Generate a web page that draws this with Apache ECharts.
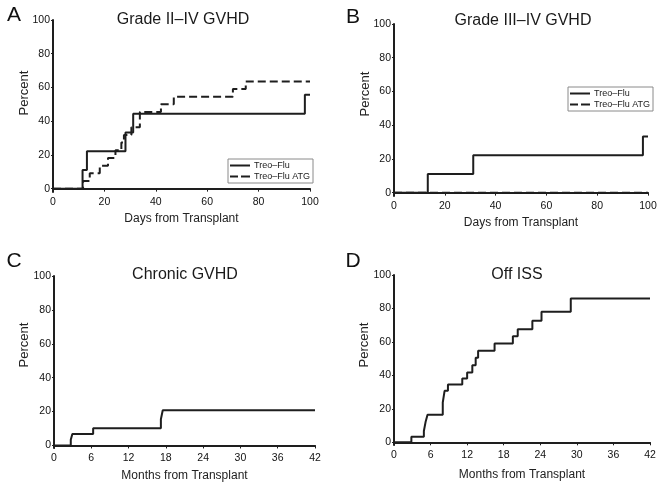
<!DOCTYPE html>
<html><head><meta charset="utf-8">
<script src="https://cdn.jsdelivr.net/npm/echarts@6/dist/echarts.min.js"></script>
<style>html,body{margin:0;padding:0;background:#fff}#c{width:664px;height:490px}</style>
</head><body><div id="c"></div>
<script>
// ---- data ----
const seriesNames = ['Treo–Flu', 'Treo–Flu ATG'];
const yTicks = [0, 20, 40, 60, 80, 100];
// Panel A: Grade II–IV GVHD (days)
const aSolidX = [0, 11.5, 13.2, 28.2, 31.2, 98, 100];
const aSolidY = [0, 11.1, 22.2, 33.3, 44.4, 55.6, 55.6];
const aDashX = [0, 11.7, 14.3, 18.2, 21.4, 24.3, 26.6, 27.6, 30.5, 33.8, 42, 47, 70, 75, 100];
const aDashY = [0, 4.5, 9.1, 13.6, 18.2, 22.7, 27.3, 31.8, 36.4, 45.5, 50, 54.5, 59.1, 63.6, 63.6];
// Panel B: Grade III–IV GVHD (days)
const bSolidX = [0, 13.3, 31.2, 98, 100];
const bSolidY = [0, 11.1, 22.2, 33.3, 33.3];
const bDashX = [0, 100];
const bDashY = [0, 0];
// Panel C: Chronic GVHD (months)
const cX = [0, 2.7, 2.95, 6.3, 17.2, 17.5, 42];
const cY = [0, 3.4, 6.8, 10.2, 15.5, 20.8, 20.8];
// Panel D: Off ISS (months)
const dX = [0, 2.85, 4.9, 5.2, 5.5, 8.0, 8.3, 8.85, 11.2, 12.0, 12.85, 13.4, 13.8, 16.5, 19.5, 20.3, 22.7, 24.2, 29.0, 42];
const dY = [0, 3.4, 6.8, 12.5, 16.5, 23.8, 30.8, 34.6, 38.2, 41.8, 46, 50.6, 54.8, 59, 63.4, 67.6, 72.6, 78, 86, 86];

const titles = ['Grade II–IV GVHD', 'Grade III–IV GVHD', 'Chronic GVHD', 'Off ISS'];
const letters = ['A', 'B', 'C', 'D'];
const xNames = ['Days from Transplant', 'Days from Transplant', 'Months from Transplant', 'Months from Transplant'];

// ---- layout ----
const FONT = '"Liberation Sans", Arial, sans-serif';
const INK = '#1e1e1e';
const grids = [
  {left: 53, top: 20, width: 257, height: 172},
  {left: 394, top: 24, width: 254, height: 172},
  {left: 54, top: 276, width: 261, height: 172},
  {left: 394, top: 275, width: 256, height: 170}
];
const yMins = [-2, -2, -1.5, -1.6];
const xMax = [100, 100, 42, 42];
const xInt = [20, 20, 6, 6];
const nameGaps = [21, 21, 22, 24];

const zip = (xs, ys) => xs.map((x, i) => [x, ys[i]]);

const xAxes = grids.map((g, i) => ({
  type: 'value', gridIndex: i, min: 0, max: xMax[i], interval: xInt[i],
  splitLine: {show: false},
  axisLine: {lineStyle: {color: INK, width: 2}},
  axisTick: {length: 3, lineStyle: {color: INK, width: 1}},
  axisLabel: {color: '#111', fontFamily: FONT, fontSize: 10.5, margin: 5},
  name: xNames[i], nameLocation: 'middle', nameGap: nameGaps[i],
  nameTextStyle: {color: '#222', fontFamily: FONT, fontSize: 12}
}));
const yAxes = grids.map((g, i) => ({
  type: 'value', gridIndex: i, min: yMins[i], max: 100,
  splitLine: {show: false},
  axisLine: {show: true, lineStyle: {color: INK, width: 2}},
  axisTick: {show: true, length: 2, customValues: yTicks, lineStyle: {color: INK, width: 1}},
  axisLabel: {color: '#111', fontFamily: FONT, fontSize: 10.5, margin: 3, customValues: yTicks}
}));

function line(name, xi, data, dashed) {
  return {
    name: name, type: 'line', xAxisIndex: xi, yAxisIndex: xi, data: data,
    step: 'end', symbol: 'none', silent: true, animation: false,
    lineStyle: {color: INK, width: 2, type: dashed ? [8, 4] : 'solid'},
    itemStyle: {color: INK}
  };
}

const series = [
  line(seriesNames[0], 0, zip(aSolidX, aSolidY), false),
  line(seriesNames[1], 0, zip(aDashX, aDashY), true),
  line(seriesNames[0], 1, zip(bSolidX, bSolidY), false),
  line(seriesNames[1], 1, zip(bDashX, bDashY), true),
  line('Chronic', 2, zip(cX, cY), false),
  line('Off', 3, zip(dX, dY), false)
];

const solidIcon = 'path://M0,0h20v2h-20z';
const dashIcon = 'path://M0,0h8v2h-8zM11,0h9v2h-9z';
const legendBase = {
  data: [
    {name: seriesNames[0], icon: solidIcon},
    {name: seriesNames[1], icon: dashIcon}
  ],
  orient: 'vertical', itemWidth: 20, itemHeight: 2, itemGap: 0,
  padding: [1, 3, 1, 2], borderColor: '#8a8a8a', borderWidth: 1, selectedMode: false,
  itemStyle: {color: INK},
  textStyle: {color: '#222', fontFamily: FONT, fontSize: 9, lineHeight: 11, padding: [0, 0, 0, -1]}
};

const titlePos = [[183, 20], [523, 21], [185, 275], [517, 275]];
const letterPos = [[14, 15], [353, 17], [14, 261], [353, 261]];
const percentPos = [[24, 93], [365, 94], [24, 345], [364, 345]];

const graphic = [];
for (let i = 0; i < 4; i++) {
  graphic.push({type: 'text', x: titlePos[i][0], y: titlePos[i][1],
    style: {text: titles[i], font: '16px ' + FONT, fill: '#1a1a1a', textAlign: 'center', textVerticalAlign: 'middle'}});
  graphic.push({type: 'text', x: letterPos[i][0], y: letterPos[i][1],
    style: {text: letters[i], font: '21px ' + FONT, fill: '#111', textAlign: 'center', textVerticalAlign: 'middle'}});
  graphic.push({type: 'text', x: percentPos[i][0], y: percentPos[i][1], rotation: Math.PI / 2,
    style: {text: 'Percent', font: '13px ' + FONT, fill: '#222', textAlign: 'center', textVerticalAlign: 'middle'}});
}

const chart = echarts.init(document.getElementById('c'), null, {renderer: 'canvas'});
chart.setOption({
  animation: false,
  backgroundColor: '#fff',
  grid: grids,
  xAxis: xAxes,
  yAxis: yAxes,
  legend: [
    Object.assign({}, legendBase, {left: 228, top: 159}),
    Object.assign({}, legendBase, {left: 568, top: 87})
  ],
  graphic: graphic,
  series: series
});
</script></body></html>
